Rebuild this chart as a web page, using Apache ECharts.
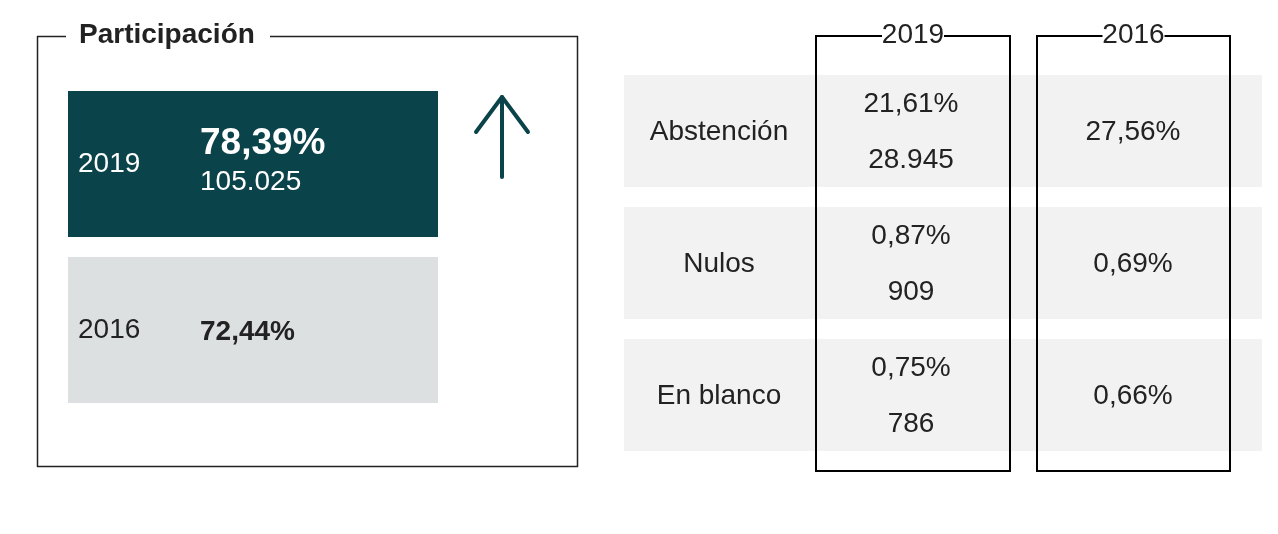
<!DOCTYPE html>
<html>
<head>
<meta charset="utf-8">
<script src="https://cdn.jsdelivr.net/npm/echarts@6/dist/echarts.min.js"></script>
<style>html,body{margin:0;padding:0;background:#fff}#c{width:1278px;height:534px}</style>
</head>
<body>
<div id="c"></div>
<script>
var panelTitle = 'Participación';
var years = ['2019', '2016'];
var participation = ['78,39%', '72,44%'];
var votes = ['105.025', ''];
var rowLabels = ['Abstención', 'Nulos', 'En blanco'];
var pct2019 = ['21,61%', '0,87%', '0,75%'];
var abs2019 = ['28.945', '909', '786'];
var pct2016 = ['27,56%', '0,69%', '0,66%'];

var FONT = '"Liberation Sans", Arial, Helvetica, sans-serif';
var DARK = '#0a4349';
var LIGHT = '#dde0e1';
var TXT = '#222222';
var FS = 28;

var chart = echarts.init(document.getElementById('c'), null, {renderer: 'canvas'});
var els = [];

function txt(x, y, s, size, color, weight, align) {
  els.push({type: 'text', x: x, y: y, z: 10, style: {
    text: s, fontFamily: FONT, fontSize: size, fill: color,
    fontWeight: weight || 'normal', align: align || 'left', verticalAlign: 'middle'
  }});
}
function line(x1, y1, x2, y2, w, color, cap) {
  els.push({type: 'line', z: 5, shape: {x1: x1, y1: y1, x2: x2, y2: y2},
    style: {stroke: color, lineWidth: w, lineCap: cap || 'butt'}});
}
function rect(x, y, w, h, fill, z) {
  els.push({type: 'rect', z: z || 1, shape: {x: x, y: y, width: w, height: h}, style: {fill: fill}});
}

// Left panel frame
line(37, 36.5, 66, 36.5, 1.5, TXT);
line(270, 36.5, 578, 36.5, 1.5, TXT);
line(37.5, 36, 37.5, 467, 1.5, TXT);
line(577.5, 36, 577.5, 467, 1.5, TXT);
line(37, 466.5, 578, 466.5, 1.5, TXT);
txt(79, 35, panelTitle, FS, TXT, 'bold');

// Participation blocks
var blockY = [91, 257];
var blockFill = [DARK, LIGHT];
var blockText = ['#ffffff', TXT];
years.forEach(function (yr, i) {
  rect(68, blockY[i], 370, 146, blockFill[i]);
  txt(78, blockY[i] + 73, yr, FS, blockText[i]);
  if (votes[i]) {
    txt(200, blockY[i] + 53, participation[i], 37, blockText[i], 'bold');
    txt(200, blockY[i] + 91, votes[i], FS, blockText[i]);
  } else {
    txt(200, blockY[i] + 75, participation[i], FS, blockText[i], 'bold');
  }
});

// Up arrow
line(502, 97, 502, 177, 4, DARK, 'round');
els.push({type: 'polyline', z: 5, shape: {points: [[476, 132], [502, 97], [528, 132]]},
  style: {stroke: DARK, lineWidth: 4, lineCap: 'round', lineJoin: 'round', fill: null}});

// Table rows
var rowTop = [75, 207, 339];
rowLabels.forEach(function (lab, i) {
  var t = rowTop[i];
  rect(624, t, 638, 112, '#f2f2f2');
  txt(719, t + 57, lab, FS, TXT, 'normal', 'center');
  txt(911, t + 29, pct2019[i], FS, TXT, 'normal', 'center');
  txt(911, t + 85, abs2019[i], FS, TXT, 'normal', 'center');
  txt(1133, t + 57, pct2016[i], FS, TXT, 'normal', 'center');
});

// Column boxes
var colX = [[816, 1010], [1037, 1230]];
var colHead = ['2019', '2016'];
colX.forEach(function (c, i) {
  var l = c[0], r = c[1], cx = (l + r) / 2;
  line(l, 36, r, 36, 2, '#000');
  line(l, 35, l, 471, 2, '#000');
  line(r, 35, r, 471, 2, '#000');
  line(l - 1, 471, r + 1, 471, 2, '#000');
  rect(cx - 31, 22, 62, 26, '#ffffff', 6);
  txt(cx, 35, colHead[i], FS, TXT, 'normal', 'center');
});

chart.setOption({animation: false, graphic: {elements: els}});
</script>
</body>
</html>
